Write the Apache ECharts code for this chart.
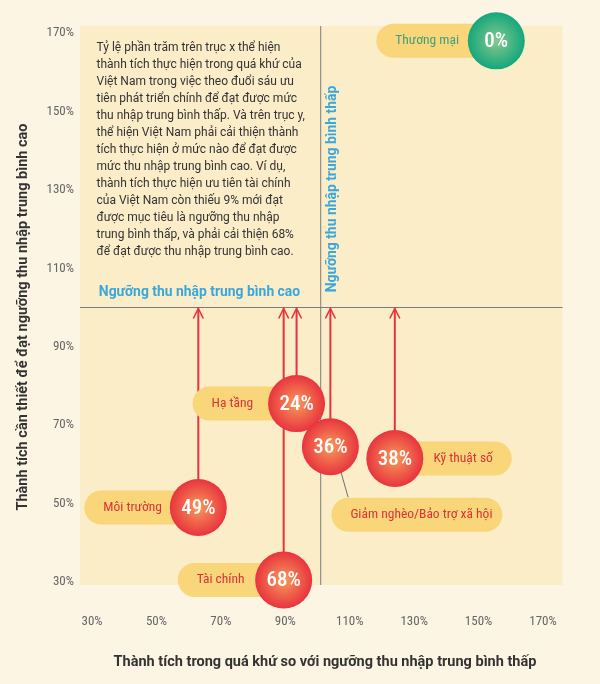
<!DOCTYPE html>
<html>
<head>
<meta charset="utf-8">
<script src="https://cdn.jsdelivr.net/npm/echarts@6/dist/echarts.min.js"></script>
<style>
  html, body { margin: 0; padding: 0; background: #FDF5E4; }
  #chart { width: 600px; height: 684px; }
</style>
</head>
<body>
<div id="chart"></div>
<script>
// ---- data ----
const categories = ['Thương mại', 'Hạ tầng', 'Giảm nghèo/Bảo trợ xã hội', 'Kỹ thuật số', 'Môi trường', 'Tài chính'];
const pastPerformance = [155.5, 93.5, 104, 124, 63, 89.5];       // x: %
const requiredPerformance = [168, 75.5, 64.5, 61.5, 49, 30.5];   // y: %
const gapLabels = ['0%', '24%', '36%', '38%', '49%', '68%'];
const tickValues = [30, 50, 70, 90, 110, 130, 150, 170];
const lowIncomeThreshold = 101;   // vertical line (x)
const highIncomeThreshold = 100;  // horizontal line (y)

const noteLines = [
  'Tỷ lệ phần trăm trên trục x thể hiện',
  'thành tích thực hiện trong quá khứ của',
  'Việt Nam trong việc theo đuổi sáu ưu',
  'tiên phát triển chính để đạt được mức',
  'thu nhập trung bình thấp. Và trên trục y,',
  'thể hiện Việt Nam phải cải thiện thành',
  'tích thực hiện ở mức nào để đạt được',
  'mức thu nhập trung bình cao. Ví dụ,',
  'thành tích thực hiện ưu tiên tài chính',
  'của Việt Nam còn thiếu 9% mới đạt',
  'được mục tiêu là ngưỡng thu nhập',
  'trung bình thấp, và phải cải thiện 68%',
  'để đạt được thu nhập trung bình cao.'
];

// ---- layout / style ----
const pillLayout = {
  'Thương mại': { side: -1, len: 120 },
  'Hạ tầng': { side: -1, len: 104 },
  'Môi trường': { side: -1, len: 114 },
  'Tài chính': { side: -1, len: 106 },
  'Kỹ thuật số': { side: 1, len: 117 },
  'Giảm nghèo/Bảo trợ xã hội': { detached: true, dx0: 1, dx1: 172, dy: 68 }
};
const RADIUS = 28.5;
const PILL_H = 34;
const PILL_COLOR = '#F9D67A';
const RED = '#E8333E';
const LABEL_RED = '#D8343A';

const chart = echarts.init(document.getElementById('chart'));

function renderFrame(params, api) {
  const cs = params.coordSys;
  const bx0 = cs.x - 12, bx1 = cs.x + cs.width + 19.5;
  const by0 = cs.y - 7, by1 = cs.y + cs.height + 3;
  const hy = api.coord([30, api.value(1)])[1];
  const vx = api.coord([api.value(0), 30])[0];
  return {
    type: 'group',
    children: [
      { type: 'rect', z2: 0, shape: { x: bx0, y: by0, width: bx1 - bx0, height: by1 - by0 }, style: { fill: '#FCEDC9' } },
      { type: 'line', z2: 1, shape: { x1: bx0, y1: hy, x2: bx1, y2: hy }, style: { stroke: '#7a7a7a', lineWidth: 1 } },
      { type: 'line', z2: 1, shape: { x1: vx, y1: by0, x2: vx, y2: by1 }, style: { stroke: '#7a7a7a', lineWidth: 1 } }
    ]
  };
}

function renderBubble(params, api) {
  const i = api.value(2);
  const name = categories[i];
  const L = pillLayout[name];
  const p = api.coord([api.value(0), api.value(1)]);
  const cx = p[0], cy = p[1];
  const isGreen = gapLabels[i] === '0%';
  const children = [];
  if (api.value(1) < highIncomeThreshold) {
    const topY = api.coord([api.value(0), highIncomeThreshold])[1] + 1;
    children.push({ type: 'line', z2: 1, shape: { x1: cx, y1: cy, x2: cx, y2: topY }, style: { stroke: RED, lineWidth: 2 } });
    children.push({ type: 'polyline', z2: 1, shape: { points: [[cx - 5, topY + 10], [cx, topY], [cx + 5, topY + 10]] }, style: { stroke: RED, lineWidth: 1.6, fill: null } });
  }
  const textColor = isGreen ? '#3E9F7A' : LABEL_RED;
  const labelFont = 'condensed 13.5px Roboto';
  if (L.detached) {
    const py = cy + L.dy;
    children.push({ type: 'line', z2: 2, shape: { x1: cx + 10.7, y1: cy + 25.7, x2: cx + 17.7, y2: cy + 50.5 }, style: { stroke: '#707070', lineWidth: 1 } });
    children.push({ type: 'rect', z2: 2, shape: { x: cx + L.dx0, y: py - PILL_H / 2, width: L.dx1 - L.dx0, height: PILL_H, r: PILL_H / 2 }, style: { fill: PILL_COLOR } });
    children.push({ type: 'text', z2: 4, x: cx + L.dx0 + 19, y: py, style: { text: name, fill: textColor, font: labelFont, align: 'left', verticalAlign: 'middle' } });
  } else if (L.side < 0) {
    children.push({ type: 'rect', z2: 2, shape: { x: cx - L.len, y: cy - PILL_H / 2, width: L.len, height: PILL_H, r: PILL_H / 2 }, style: { fill: PILL_COLOR } });
    children.push({ type: 'text', z2: 4, x: cx - L.len + 19, y: cy, style: { text: name, fill: textColor, font: labelFont, align: 'left', verticalAlign: 'middle' } });
  } else {
    children.push({ type: 'rect', z2: 2, shape: { x: cx, y: cy - PILL_H / 2, width: L.len, height: PILL_H, r: PILL_H / 2 }, style: { fill: PILL_COLOR } });
    children.push({ type: 'text', z2: 4, x: cx + L.len - 19, y: cy, style: { text: name, fill: textColor, font: labelFont, align: 'right', verticalAlign: 'middle' } });
  }
  const grad = isGreen
    ? new echarts.graphic.RadialGradient(0.5, 0.5, 0.5, [{ offset: 0, color: '#86C88C' }, { offset: 1, color: '#14A77D' }])
    : new echarts.graphic.RadialGradient(0.5, 0.5, 0.5, [{ offset: 0, color: '#F89A5A' }, { offset: 1, color: '#E8343E' }]);
  children.push({ type: 'circle', z2: 3, shape: { cx: cx, cy: cy, r: RADIUS }, style: { fill: grad } });
  children.push({ type: 'text', z2: 4, x: cx, y: cy + 1, style: { text: gapLabels[i], fill: '#ffffff', font: 'condensed 500 21px Roboto', align: 'center', verticalAlign: 'middle' } });
  return { type: 'group', children: children };
}

const axisLabelStyle = { color: '#666', fontSize: 13, fontFamily: 'Roboto', fontStyle: 'semi-condensed' };

const option = {
  backgroundColor: '#FDF5E4',
  animation: false,
  grid: { left: 92, right: 57, top: 33, bottom: 102, containLabel: false },
  xAxis: {
    type: 'value', min: 30, max: 170, interval: 20,
    axisLine: { show: false }, axisTick: { show: false }, splitLine: { show: false },
    axisLabel: Object.assign({ margin: 33, formatter: v => tickValues.includes(v) ? v + '%' : '' }, axisLabelStyle)
  },
  yAxis: {
    type: 'value', min: 30, max: 170, interval: 20,
    axisLine: { show: false }, axisTick: { show: false }, splitLine: { show: false },
    axisLabel: Object.assign({ margin: 18, formatter: v => tickValues.includes(v) ? v + '%' : '' }, axisLabelStyle)
  },
  graphic: [
    {
      type: 'text', left: 96.5, top: 39, z: 10,
      style: { text: noteLines.join('\n'), font: '12px Roboto', lineHeight: 17, fill: '#333333' }
    },
    {
      type: 'text', x: 333, y: 189, rotation: Math.PI / 2, z: 10,
      style: { text: 'Ngưỡng thu nhập trung bình thấp', font: 'bold 13.9px Roboto', fill: '#3AA6D9', verticalAlign: 'middle', align: 'center' }
    },
    {
      type: 'text', x: 23, y: 317, rotation: Math.PI / 2, z: 10,
      style: { text: 'Thành tích cần thiết để đạt ngưỡng thu nhập trung bình cao', font: 'bold 14.5px Roboto', fill: '#333333', verticalAlign: 'middle', align: 'center' }
    },
    {
      type: 'text', x: 325, y: 662, z: 10,
      style: { text: 'Thành tích trong quá khứ so với ngưỡng thu nhập trung bình thấp', font: 'bold 14.5px Roboto', fill: '#333333', verticalAlign: 'middle', align: 'center' }
    },
    {
      type: 'text', x: 199.5, y: 293, z: 10,
      style: { text: 'Ngưỡng thu nhập trung bình cao', font: 'normal normal bold 13.9px Roboto', fill: '#3AA6D9', verticalAlign: 'middle', align: 'center' }
    }
  ],
  series: [
    {
      type: 'custom', name: 'frame', z: 0, silent: true, clip: false,
      renderItem: renderFrame,
      data: [[lowIncomeThreshold, highIncomeThreshold]]
    },
    {
      type: 'custom', name: 'priorities', z: 2, clip: false,
      renderItem: renderBubble,
      encode: { x: 0, y: 1 },
      data: categories.map((c, i) => [pastPerformance[i], requiredPerformance[i], i])
    }
  ]
};
chart.setOption(option);
</script>
</body>
</html>
